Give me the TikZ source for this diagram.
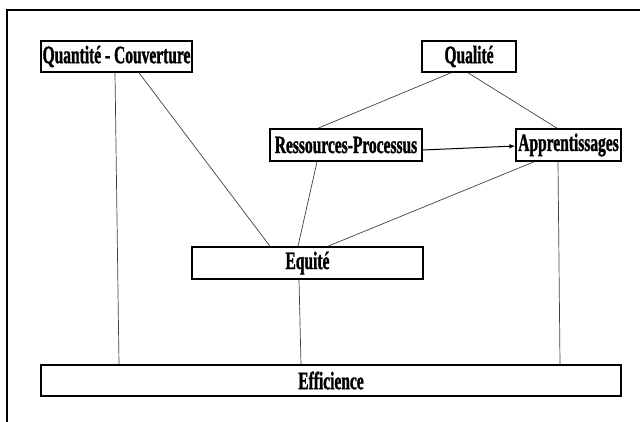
\documentclass[tikz,border=0pt]{standalone}
\usepackage{fontspec}
\newfontfamily\boxfont[FakeStretch=0.62, FakeBold=1.2]{Liberation Serif}
\usepackage{tikz}
\usetikzlibrary{arrows, calc}

\begin{document}
\begin{tikzpicture}[x=1pt, y=-1pt, >=latex]

        % --- styles ---
        \tikzstyle{concept} = [rectangle, draw=black, line width=1.6pt, inner sep=0pt, text centered, font=\boxfont\bfseries\fontsize{25}{27}\selectfont]
        \tikzstyle{link} = [line width=0.7pt, draw=black!75]
        \tikzstyle{arrow} = [line width=1pt, ->]

        % --- frame ---
        \useasboundingbox (0,0) rectangle (640,421);
        \clip (0,0) rectangle (640,421);
        \draw[line width=1.2pt] (7,10) rectangle (660,440);

        % --- boxes ---
        \node (quant) [concept, minimum width=151, minimum height=31] at (116.5,56.5) {Quantité - Couverture};
        \node (qual) [concept, minimum width=94, minimum height=31] at (469,56.5) {Qualité};
        \node (ress) [concept, minimum width=152, minimum height=32] at (346,145) {Ressources-Processus};
        \node (appr) [concept, minimum width=105, minimum height=32] at (568.5,145) {Apprentissages};
        \node (equite) [concept, minimum width=231, minimum height=32] at (307.5,263) {Equité};
        \node (effic) [concept, minimum width=580, minimum height=31] at (331,380.5) {Efficience};

        % --- links ---
        \draw[link] ([xshift=-1.5]quant.south) -- ([xshift=-212]effic.north);
        \draw[link] ([xshift=22.5]quant.south) -- ([xshift=-37.5]equite.north);
        \draw[link] ([xshift=-18]qual.south) -- ([xshift=-28]ress.north);
        \draw[link] ([xshift=-1]qual.south) -- ([xshift=-11.5]appr.north);
        \draw[arrow] ([yshift=-5]ress.east) -- ([yshift=-1]appr.west);
        \draw[link] ([xshift=-29]ress.south) -- ([xshift=-9.5]equite.north);
        \draw[link] ([xshift=-34.5]appr.south) -- ([xshift=20.5]equite.north);
        \draw[link] ([xshift=-10.5]appr.south) -- ([xshift=229]effic.north);
        \draw[link] ([xshift=-8.5]equite.south) -- ([xshift=-30]effic.north);

\end{tikzpicture}
\end{document}
